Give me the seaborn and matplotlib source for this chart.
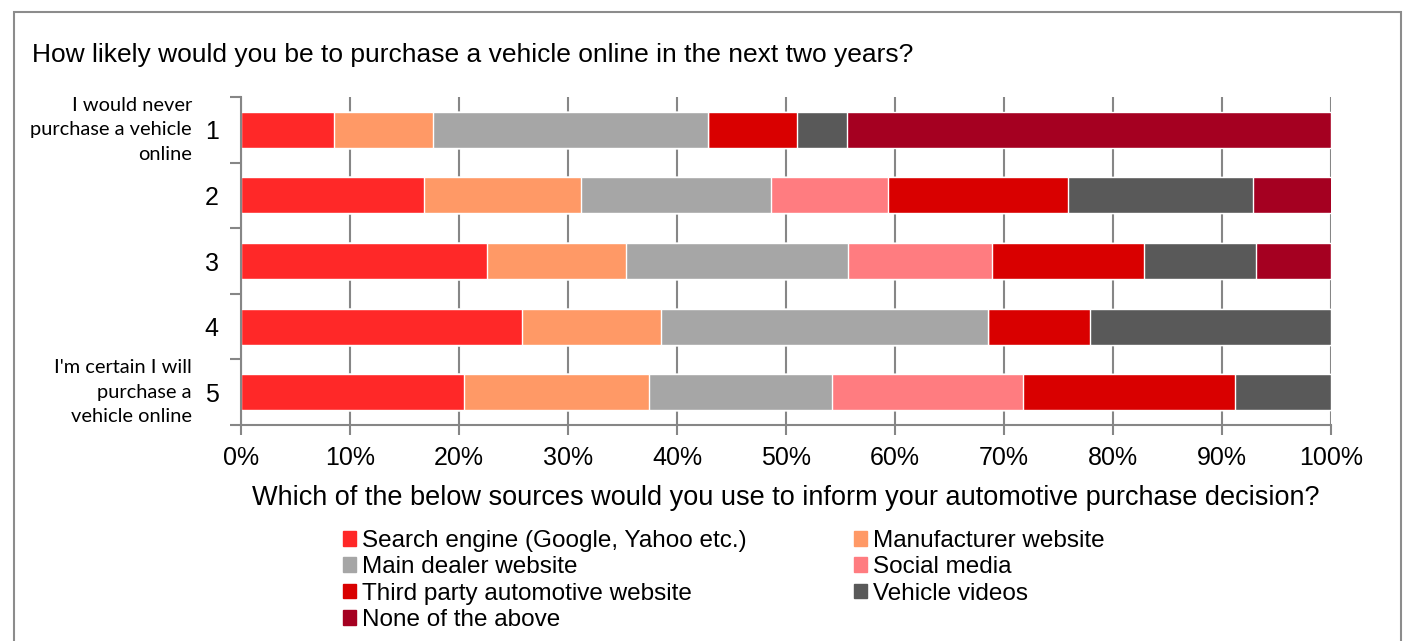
import seaborn as sns
import matplotlib.pyplot as plt
import matplotlib.patches as mpatches
import pandas as pd
import numpy as np

# Data (percent shares)
levels = ["1", "2", "3", "4", "5"]
sources = ["Search engine (Google, Yahoo etc.)", "Manufacturer website", "Main dealer website",
           "Social media", "Third party automotive website", "Vehicle videos", "None of the above"]
search_engine = [8.5, 16.8, 22.6, 25.8, 20.5]
manufacturer = [9.1, 14.4, 12.7, 12.7, 16.9]
main_dealer = [25.2, 17.4, 20.4, 30.0, 16.8]
social_media = [0.0, 10.8, 13.2, 0.0, 17.5]
third_party = [8.2, 16.5, 13.9, 9.4, 19.5]
vehicle_videos = [4.6, 16.9, 10.3, 22.1, 8.8]
none_above = [44.4, 7.7, 6.9, 0.0, 0.0]
colors = ["#FF2828", "#FF9966", "#A6A6A6", "#FF7C80", "#D90000", "#595959", "#A50021"]

title = "How likely would you be to purchase a vehicle online in the next two years?"
xlabel = "Which of the below sources would you use to inform your automotive purchase decision?"
top_note = "I would never\npurchase a vehicle\nonline"
bottom_note = "I'm certain I will\npurchase a\nvehicle online"

df = pd.DataFrame([search_engine, manufacturer, main_dealer, social_media,
                   third_party, vehicle_videos, none_above], index=sources, columns=levels).T
cum = df.cumsum(axis=1)

sns.set_theme(style="white")
plt.rcParams['font.family'] = ['Liberation Sans', 'DejaVu Sans']
plt.rcParams['text.color'] = 'black'
plt.rcParams['axes.labelcolor'] = 'black'
plt.rcParams['xtick.labelcolor'] = 'black'
plt.rcParams['ytick.labelcolor'] = 'black'

fig = plt.figure(figsize=(14.06, 6.41), dpi=100)
ax = fig.add_axes([241 / 1406, 1 - 425 / 641, 1090 / 1406, 328 / 641])

# stacked bars: draw cumulative totals from the outermost series inward
for src, col in reversed(list(zip(sources, colors))):
    sns.barplot(x=cum[src].values, y=levels, orient="h", color=col, width=0.55,
                saturation=1, ax=ax, order=levels)

gc = "#868686"
ax.set_xlim(0, 100)
ax.set_ylim(4.5, -0.5)
ax.set_xticks(np.arange(0, 101, 10))
ax.set_xticklabels([f"{v}%" for v in range(0, 101, 10)], fontsize=18)
ax.xaxis.grid(True, color=gc, linewidth=1.5)
ax.set_axisbelow(True)
ax.set_yticks(range(5))
ax.set_yticklabels(levels, fontsize=18)
ax.set_yticks(np.arange(-0.5, 5, 1), minor=True)
ax.tick_params(axis="y", which="major", length=0, pad=16)
ax.tick_params(axis="y", which="minor", length=8, color=gc, width=1.5, left=True)
ax.tick_params(axis="x", length=7, color=gc, width=1.5, bottom=True, pad=8)
for s in ["top", "right"]:
    ax.spines[s].set_visible(False)
for s in ["left", "bottom"]:
    ax.spines[s].set_color(gc)
    ax.spines[s].set_linewidth(1.5)
ax.set_xlabel(xlabel, fontsize=19.5, labelpad=11)
ax.set_ylabel("")

ax.text(-4.5, 0, top_note, ha="right", va="center", fontsize=14.4, family="Lato",
        linespacing=1.55, transform=ax.transData)
ax.text(-4.5, 4, bottom_note, ha="right", va="center", fontsize=14.4, family="Lato",
        linespacing=1.55, transform=ax.transData)

fig.text(32 / 1406, 1 - 55 / 641, title, fontsize=19, ha="left", va="center")

# legend in Excel row order (two columns)
handles = [mpatches.Patch(color=c, label=s) for s, c in zip(sources, colors)]
order = [0, 2, 4, 6, 1, 3, 5]
fig.legend([handles[i] for i in order], [sources[i] for i in order], ncol=2,
           loc="upper left", bbox_to_anchor=(343 / 1406, 1 - 530 / 641), frameon=False,
           fontsize=17.5, handlelength=0.55, handleheight=0.55, handletextpad=0.25,
           columnspacing=4.4, labelspacing=0.18, borderaxespad=0, borderpad=0)

# outer frame
fig.patches.append(mpatches.Rectangle((14 / 1406, -0.05), 1387 / 1406, 1.05 - 12 / 641,
                                      transform=fig.transFigure, fill=False,
                                      edgecolor="#8C8C8C", linewidth=1.5))

fig.savefig("out.png", dpi=100)
